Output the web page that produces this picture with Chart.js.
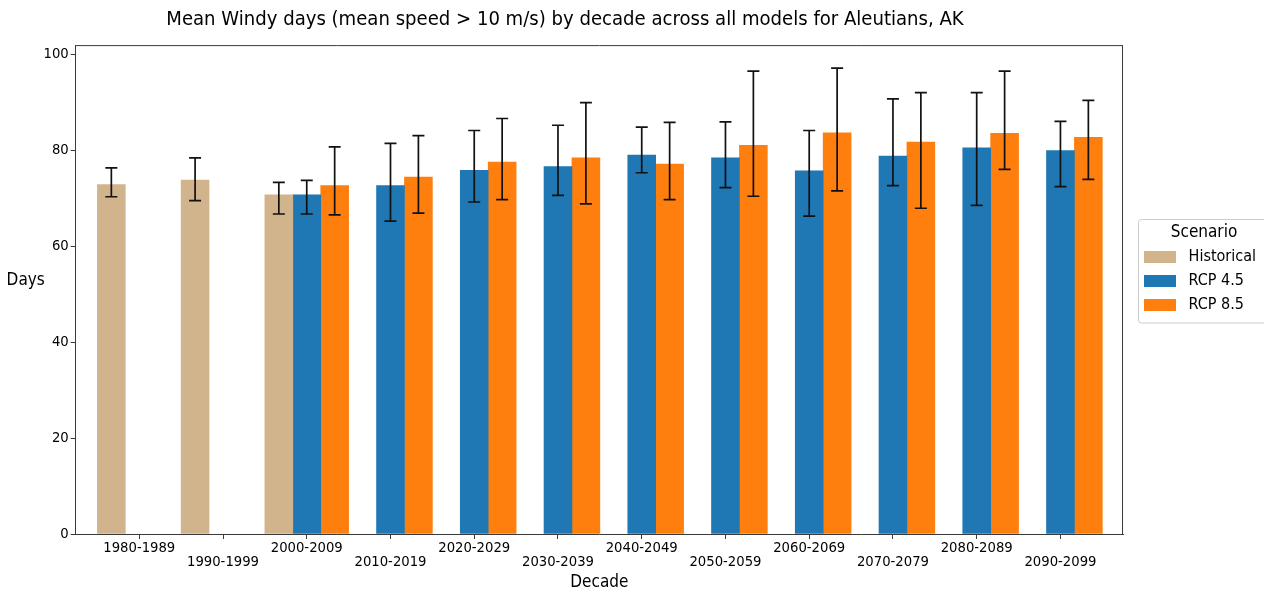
<!DOCTYPE html>
<html>
<head>
<meta charset="utf-8">
<title>Mean Windy days by decade – Aleutians, AK</title>
<script src="https://cdn.jsdelivr.net/npm/chart.js@4.4.1/dist/chart.umd.min.js"></script>
<style>
  html, body { margin: 0; padding: 0; background: #ffffff; }
  canvas { display: block; }
</style>
</head>
<body>
<canvas id="chart" width="1264" height="590"></canvas>
<script>
// Decades on the x axis
const decades = ['1980-1989', '1990-1999', '2000-2009', '2010-2019', '2020-2029', '2030-2039',
                 '2040-2049', '2050-2059', '2060-2069', '2070-2079', '2080-2089', '2090-2099'];

// Mean number of windy days per scenario, with the model spread (low / high)
const historicalMean = [72.85, 73.75, 70.7, null, null, null, null, null, null, null, null, null];
const historicalLow  = [70.3, 69.5, 66.7, null, null, null, null, null, null, null, null, null];
const historicalHigh = [76.3, 78.4, 73.3, null, null, null, null, null, null, null, null, null];

const rcp45Mean = [null, null, 70.7, 72.6, 75.8, 76.6, 79.0, 78.4, 75.7, 78.75, 80.5, 79.9];
const rcp45Low  = [null, null, 66.7, 65.2, 69.2, 70.6, 75.3, 72.2, 66.25, 72.6, 68.5, 72.4];
const rcp45High = [null, null, 73.7, 81.4, 84.1, 85.2, 84.8, 85.9, 84.1, 90.7, 92.0, 86.0];

const rcp85Mean = [null, null, 72.6, 74.4, 77.5, 78.4, 77.1, 81.0, 83.6, 81.7, 83.5, 82.7];
const rcp85Low  = [null, null, 66.5, 66.9, 69.7, 68.8, 69.7, 70.4, 71.5, 67.9, 76.0, 73.9];
const rcp85High = [null, null, 80.7, 83.05, 86.6, 89.9, 85.8, 96.5, 97.1, 92.0, 96.5, 90.4];

const yTicks = [0, 20, 40, 60, 80, 100];

const FONT = '"DejaVu Sans Condensed", "DejaVu Sans", sans-serif';
const INK = '#000000';
const SPINE = '#3a3a3a';

const toPoints = arr => arr.map((v, i) => ({ x: i, y: v }));

// Whiskers from each bar's low to high value, with caps
const errorBars = {
  id: 'errorBars',
  afterDatasetsDraw(chart) {
    const ctx = chart.ctx;
    const yScale = chart.scales.y;
    chart.data.datasets.forEach((ds, di) => {
      const meta = chart.getDatasetMeta(di);
      meta.data.forEach((bar, i) => {
        const lo = ds.errLow[i], hi = ds.errHigh[i];
        if (lo == null || hi == null) return;
        const x = bar.x;
        const yl = yScale.getPixelForValue(lo);
        const yh = yScale.getPixelForValue(hi);
        ctx.save();
        ctx.strokeStyle = '#111111';
        ctx.lineWidth = 1.7;
        ctx.beginPath();
        ctx.moveTo(x, yl); ctx.lineTo(x, yh);
        ctx.moveTo(x - 6, yl); ctx.lineTo(x + 6, yl);
        ctx.moveTo(x - 6, yh); ctx.lineTo(x + 6, yh);
        ctx.stroke();
        ctx.restore();
      });
    });
  }
};

// Closes the plot frame on the top and right sides
const frame = {
  id: 'frame',
  afterDatasetsDraw(chart) {
    const { left, right, top, bottom } = chart.chartArea;
    const ctx = chart.ctx;
    ctx.save();
    ctx.strokeStyle = SPINE;
    ctx.lineWidth = 1;
    ctx.beginPath();
    ctx.moveTo(left, top + 0.5); ctx.lineTo(right, top + 0.5);
    ctx.moveTo(right - 0.5, top); ctx.lineTo(right - 0.5, bottom);
    ctx.stroke();
    ctx.restore();
  }
};

// Horizontal "Days" label left of the y axis
const yLabel = {
  id: 'yLabel',
  afterDraw(chart) {
    const ctx = chart.ctx;
    ctx.save();
    ctx.font = '17px ' + FONT;
    ctx.fillStyle = INK;
    ctx.textAlign = 'center';
    ctx.textBaseline = 'middle';
    ctx.fillText('Days', chart.chartArea.left - 50, 281);
    ctx.restore();
  }
};

// Puts the legend to the right of the plot and frames it
const legendPlacement = {
  id: 'legendPlacement',
  afterLayout(chart) {
    const lg = chart.legend;
    if (!lg) return;
    lg.left = chart.chartArea.right + 13;
    lg.top = 219.5;
    lg.width = 136;
    lg.height = 130;
    lg.right = lg.left + lg.width;
    lg.bottom = lg.top + lg.height;
  },
  afterDraw(chart) {
    const lg = chart.legend;
    if (!lg) return;
    const ctx = chart.ctx;
    ctx.save();
    ctx.strokeStyle = '#cccccc';
    ctx.lineWidth = 1;
    ctx.beginPath();
    ctx.roundRect(lg.left + 2.5, 219.5, 150, 103.5, 3);
    ctx.stroke();
    ctx.restore();
  }
};

new Chart(document.getElementById('chart'), {
  type: 'bar',
  data: {
    datasets: [
      { label: 'Historical', data: toPoints(historicalMean), errLow: historicalLow, errHigh: historicalHigh,
        backgroundColor: '#d2b48c', borderWidth: 0 },
      { label: 'RCP 4.5', data: toPoints(rcp45Mean), errLow: rcp45Low, errHigh: rcp45High,
        backgroundColor: '#1f77b4', borderWidth: 0 },
      { label: 'RCP 8.5', data: toPoints(rcp85Mean), errLow: rcp85Low, errHigh: rcp85High,
        backgroundColor: '#ff7f0e', borderWidth: 0 }
    ]
  },
  options: {
    responsive: false,
    animation: false,
    categoryPercentage: 1.0,
    barPercentage: 1.0,
    layout: { padding: { left: 7, right: 141, top: 0, bottom: 0 } },
    plugins: {
      tooltip: { enabled: false },
      title: {
        display: true,
        text: 'Mean Windy days (mean speed > 10 m/s) by decade across all models for Aleutians, AK',
        color: INK,
        font: { family: FONT, size: 20.1, weight: 'normal' },
        padding: { top: 8, bottom: 13 }
      },
      legend: {
        position: 'chartArea',
        align: 'start',
        title: {
          display: true,
          text: 'Scenario',
          color: INK,
          font: { family: FONT, size: 17 },
          padding: { top: 5, bottom: -4 }
        },
        labels: {
          color: INK,
          font: { family: FONT, size: 16 },
          boxWidth: 32,
          boxHeight: 12,
          padding: 8,
          generateLabels(chart) {
            const items = Chart.defaults.plugins.legend.labels.generateLabels(chart);
            items.forEach(it => { it.text = ' ' + it.text; it.lineWidth = 0; });
            return items;
          }
        }
      }
    },
    scales: {
      x: {
        type: 'linear',
        offset: false,
        min: -0.759,
        max: 11.747,
        afterBuildTicks: s => { s.ticks = decades.map((_, i) => ({ value: i })); },
        afterFit: s => { s.height = 56; },
        grid: { offset: false, drawOnChartArea: false, drawTicks: true, tickLength: 5, tickColor: SPINE, color: SPINE },
        border: { display: true, color: SPINE, width: 1 },
        ticks: {
          autoSkip: false,
          maxRotation: 0,
          color: INK,
          padding: 2,
          font: { family: FONT, size: 14.7, lineHeight: 0.95 },
          callback: (v) => (v % 2 === 1 ? ['', decades[v]] : decades[v])
        },
        title: {
          display: true,
          text: 'Decade',
          color: INK,
          font: { family: FONT, size: 17 },
          padding: { top: 0, bottom: -3 }
        }
      },
      y: {
        min: 0,
        max: 101.9,
        afterBuildTicks: s => { s.ticks = yTicks.map(v => ({ value: v })); },
        afterFit: s => { s.width = 68.7; },
        grid: { drawOnChartArea: false, drawTicks: true, tickLength: 5, tickColor: SPINE, color: SPINE },
        border: { display: true, color: SPINE, width: 1 },
        ticks: { color: INK, padding: 2, font: { family: FONT, size: 14.7 } }
      }
    }
  },
  plugins: [errorBars, frame, yLabel, legendPlacement]
});
</script>
</body>
</html>
